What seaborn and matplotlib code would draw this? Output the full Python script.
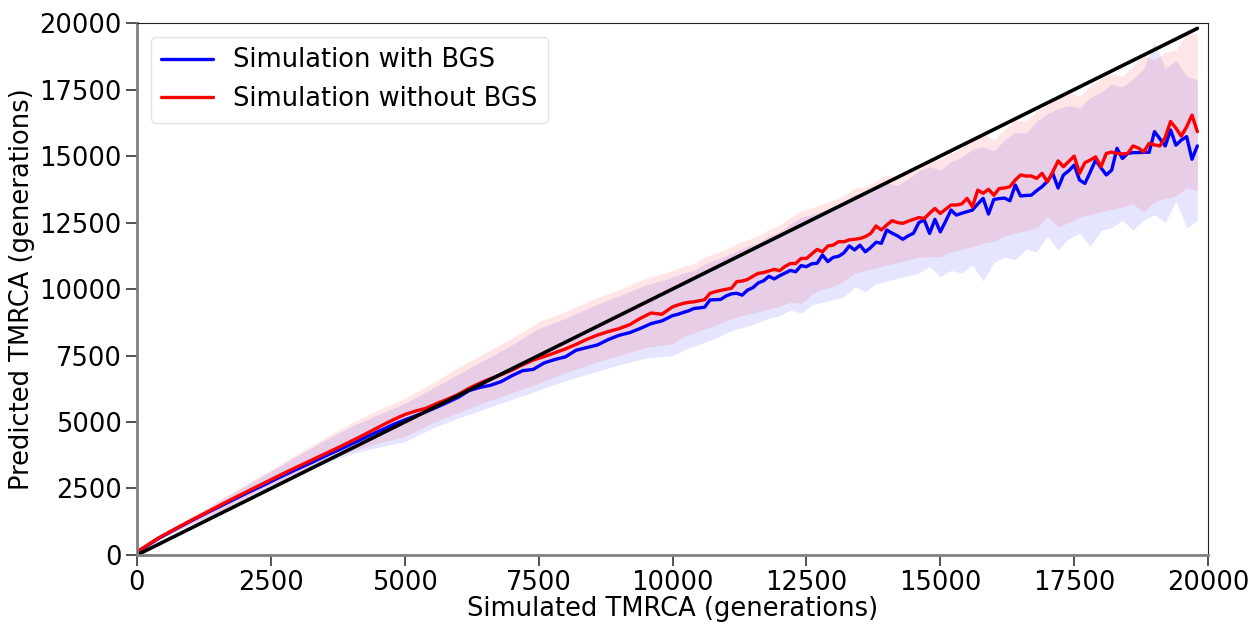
import numpy as np
import pandas as pd
import matplotlib
matplotlib.use("Agg")
import matplotlib.pyplot as plt
import seaborn as sns

# ---------------- data ----------------
# simulated TMRCA grid of the mean curves
line_x = list(range(0, 10000, 200)) + list(range(10000, 19801, 100))

without_bgs = [
    # 0 .. 9800 step 200
    120, 380, 640, 860, 1080, 1290, 1500, 1710, 1920, 2130,
    2330, 2530, 2730, 2930, 3130, 3320, 3510, 3700, 3890, 4080,
    4280, 4480, 4690, 4900, 5100, 5280, 5410, 5520, 5700, 5860,
    6040, 6270, 6460, 6630, 6780, 6950, 7150, 7330, 7460, 7600,
    7750, 7920, 8110, 8270, 8400, 8510, 8660, 8900, 9100, 9050,
    # 10000 .. 19800 step 100
    9330, 9400, 9460, 9500, 9520, 9560, 9600, 9840, 9900, 9950,
    9990, 10030, 10280, 10300, 10360, 10480, 10590, 10620, 10680, 10740,
    10690, 10850, 10960, 10960, 11150, 11150, 11320, 11490, 11400, 11620,
    11650, 11780, 11780, 11850, 11870, 11900, 11970, 12090, 12370, 12220,
    12410, 12570, 12500, 12470, 12550, 12620, 12690, 12650, 12850, 13030,
    12840, 13000, 13160, 13160, 13200, 13410, 13090, 13720, 13600, 13750,
    13530, 13780, 13800, 13850, 14100, 14290, 14250, 14250, 14160, 14350,
    14030, 14400, 14820, 14600, 14800, 15000, 14350, 14750, 14850, 14970,
    14600, 15100, 15150, 15100, 15080, 15100, 15380, 15300, 15160, 15480,
    15420, 15380, 15700, 16300, 16050, 15750, 16100, 16540, 15920,
]

with_bgs = [
    # 0 .. 9800 step 200
    100, 360, 620, 840, 1060, 1270, 1480, 1680, 1880, 2080,
    2280, 2470, 2660, 2860, 3050, 3240, 3420, 3610, 3800, 3980,
    4170, 4360, 4550, 4730, 4920, 5080, 5230, 5390, 5560, 5740,
    5930, 6180, 6300, 6380, 6520, 6740, 6930, 6980, 7220, 7350,
    7450, 7700, 7800, 7900, 8100, 8260, 8360, 8520, 8700, 8800,
    # 10000 .. 19800 step 100
    9000, 9050, 9120, 9180, 9270, 9290, 9320, 9590, 9600, 9610,
    9740, 9820, 9840, 9770, 9960, 10050, 10230, 10310, 10480, 10380,
    10500, 10600, 10700, 10650, 10880, 10840, 10950, 10970, 11280, 11030,
    11190, 11230, 11360, 11620, 11470, 11650, 11400, 11560, 11760, 11720,
    12220, 12100, 12000, 11870, 12000, 12100, 12500, 12600, 12090, 12620,
    12150, 12550, 12970, 12780, 12850, 12910, 12970, 13200, 13410, 12820,
    13370, 13400, 13420, 13320, 13910, 13500, 13520, 13530, 13700, 13850,
    14050, 14350, 13800, 14290, 14450, 14660, 14100, 13970, 14400, 14850,
    14560, 14290, 14470, 15290, 14910, 15100, 15130, 15130, 15140, 15140,
    15920, 15650, 15380, 15980, 15410, 15600, 15730, 14880, 15380,
]

# spread bands
band_x = list(range(0, 10000, 500)) + list(range(10000, 19801, 200))

without_hi = [
    130, 800, 1420, 2020, 2620, 3200, 3800, 4400, 4960, 5450,
    5890, 6450, 7050, 7600, 8150, 8770, 9150, 9600, 9980, 10400,
    10700, 10850, 10950, 11200, 11350, 11500, 11700, 11850, 12000, 12250,
    12400, 12700, 12950, 13050, 13200, 13350, 13500, 13800, 13850, 14050,
    14300, 14150, 14400, 14700, 14850, 14900, 15100, 15300, 15700, 15850,
    15600, 16000, 16350, 16300, 16700, 16900, 17230, 17400, 17250, 17650,
    17900, 18100, 18000, 18400, 18800, 18600, 18900, 19000, 19600, 19600,
]
with_hi = [
    120, 780, 1390, 1980, 2570, 3150, 3730, 4300, 4830, 5280,
    5700, 6250, 6800, 7350, 7900, 8520, 8900, 9350, 9750, 10150,
    10450, 10600, 10700, 10950, 11100, 11250, 11450, 11600, 11750, 12000,
    12150, 12450, 12700, 12800, 12950, 13100, 13250, 13550, 13600, 13800,
    14000, 13900, 14150, 14450, 14600, 14470, 14800, 14950, 15250, 15350,
    15200, 15600, 15900, 15850, 16300, 16600, 16790, 16900, 16800, 17200,
    17400, 17700, 17600, 17900, 18300, 19300, 18300, 18600, 18000, 17860,
]
without_lo = [
    80, 690, 1170, 1620, 2150, 2650, 3100, 3520, 3900, 4200,
    4450, 4950, 5350, 5750, 6100, 6450, 6850, 7200, 7500, 7800,
    7950, 8200, 8350, 8500, 8650, 8800, 8950, 9050, 9150, 9250,
    9350, 9500, 9460, 9800, 10000, 10100, 10300, 10600, 10700, 10800,
    10900, 11000, 11100, 11200, 11210, 11210, 11400, 11500, 11600, 11720,
    11800, 12000, 12100, 12200, 12300, 12720, 12340, 12500, 12700, 12800,
    12900, 13000, 13090, 13200, 12900, 13300, 13400, 13500, 13800, 13720,
]
with_lo = [
    70, 670, 1140, 1580, 2100, 2600, 3050, 3450, 3800, 4050,
    4260, 4750, 5150, 5500, 5850, 6200, 6550, 6850, 7150, 7400,
    7500, 7700, 7850, 8000, 8150, 8350, 8500, 8600, 8750, 8900,
    9000, 9210, 9090, 9400, 9500, 9600, 9700, 10090, 9900, 10200,
    10300, 10400, 10500, 10600, 10840, 10460, 10700, 10600, 10900, 10300,
    11000, 11200, 11100, 11500, 11400, 12000, 11470, 11900, 12100, 11600,
    12200, 12300, 12590, 12200, 12600, 12800, 12500, 13300, 12300, 12590,
]

diag_x = [0, 19800]
series_names = ["Simulation with BGS", "Simulation without BGS"]
series_colors = ["blue", "red"]

# ---------------- plot ----------------
sns.set_style("ticks")
plt.rcParams["font.family"] = ["DejaVu Sans"]
plt.rcParams.update({
    "text.color": "black",
    "axes.labelcolor": "black",
    "xtick.color": "black",
    "ytick.color": "black",
})

fig, ax = plt.subplots(figsize=(12.58, 6.24), dpi=100)
fig.subplots_adjust(left=0.1089, right=0.9603, bottom=0.1106, top=0.963)

ax.fill_between(band_x, with_lo, with_hi, color="blue", alpha=0.1, lw=0)
ax.fill_between(band_x, without_lo, without_hi, color="red", alpha=0.1, lw=0)

df = pd.DataFrame({
    "sim": line_x * 2,
    "pred": with_bgs + without_bgs,
    "series": [series_names[0]] * len(line_x) + [series_names[1]] * len(line_x),
})
sns.lineplot(data=df, x="sim", y="pred", hue="series",
             palette=dict(zip(series_names, series_colors)),
             hue_order=series_names, lw=2.4, ax=ax, errorbar=None)

sns.lineplot(x=diag_x, y=diag_x, color="black", lw=2.6, ax=ax)

ax.set_xlim(0, 20000)
ax.set_ylim(0, 20000)
ax.set_xticks(range(0, 20001, 2500))
ax.set_yticks(range(0, 20001, 2500))
ax.set_xlabel("Simulated TMRCA (generations)", fontsize=18.5, labelpad=0)
ax.set_ylabel("Predicted TMRCA (generations)", fontsize=18.5, labelpad=3)
ax.tick_params(axis="both", labelsize=18.5, length=8, width=1.1, color="#222222", pad=3)

for side in ["left", "bottom"]:
    ax.spines[side].set_color("#808080")
    ax.spines[side].set_linewidth(2)
for side in ["top", "right"]:
    ax.spines[side].set_visible(True)
    ax.spines[side].set_color("#222222")
    ax.spines[side].set_linewidth(0.8)

handles, labels = ax.get_legend_handles_labels()
leg = ax.legend(handles[:2], labels[:2], loc="upper left", fontsize=18.5,
                frameon=True, borderaxespad=0.55, handlelength=2.0)
leg.get_frame().set_edgecolor("#dddddd")

fig.savefig("out.png", dpi=100)
